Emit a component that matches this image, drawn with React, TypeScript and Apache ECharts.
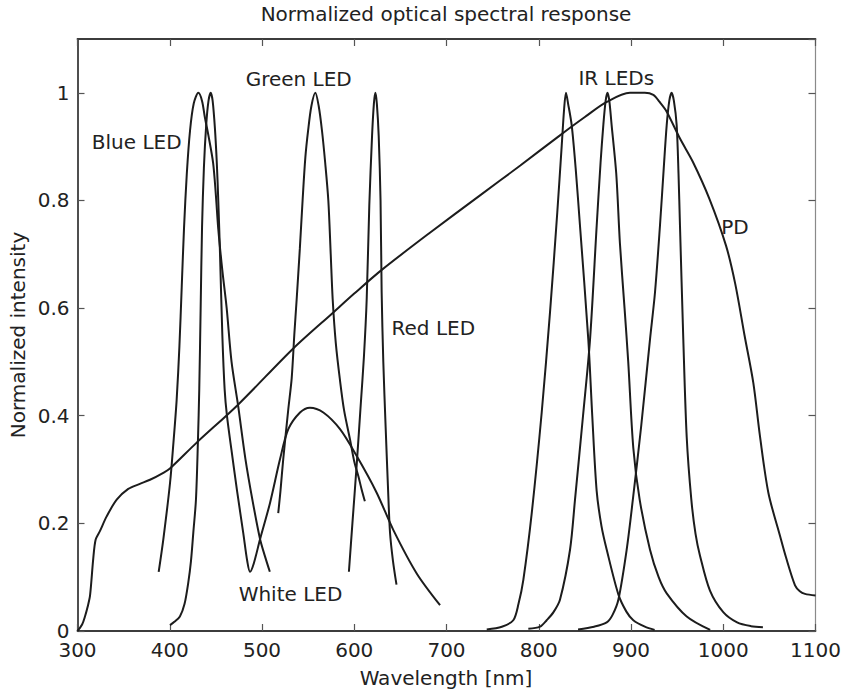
import React, { useEffect, useRef } from 'react';
import * as echarts from 'echarts';

// Axis ranges / ticks
const xMin = 300;
const xMax = 1100;
const xStep = 100;
const yMin = 0;
const yMax = 1.1;
const yStep = 0.2;

// Texts
const titleText = 'Normalized optical spectral response';
const xAxisTitle = 'Wavelength [nm]';
const yAxisTitle = 'Normalized intensity';
const curveLabels = ['Blue LED', 'Green LED', 'Red LED', 'White LED', 'IR LEDs', 'PD'];

// Series values: [wavelength nm, normalized intensity]
const pdCurve: [number, number][] = [
  [300, 0], [305, 0.012], [308.1, 0.027], [311, 0.045], [313.6, 0.066], [317.1, 0.135], [319.7, 0.17],
  [324.4, 0.186], [331.6, 0.213], [342.5, 0.244], [355, 0.264], [367, 0.273], [378.6, 0.281],
  [393, 0.294], [400.2, 0.302], [429.2, 0.35], [474.3, 0.421], [533.9, 0.525], [577.3, 0.592],
  [600, 0.627], [629.8, 0.671], [682, 0.74], [736, 0.809], [780, 0.865], [823, 0.921],
  [850, 0.955], [873.7, 0.983], [898.9, 1.0], [915, 1.0], [924.2, 0.996], [931, 0.983],
  [938.7, 0.965], [953.1, 0.915], [967, 0.872], [985, 0.803], [1003, 0.716], [1013, 0.645],
  [1023, 0.55], [1032.6, 0.461], [1039.8, 0.362], [1048.9, 0.257], [1061.5, 0.177],
  [1068, 0.137], [1077.8, 0.085], [1083, 0.074], [1088.6, 0.069], [1100, 0.066]
];

const blueLed: [number, number][] = [
  [388, 0.11], [393, 0.17], [400.3, 0.275], [404, 0.35], [407.5, 0.43], [410.5, 0.53], [413, 0.64],
  [415.5, 0.75], [418.5, 0.85], [422, 0.93], [426, 0.98], [431, 1.0], [435, 0.985], [438, 0.955],
  [442, 0.92], [447, 0.87], [450, 0.81], [452.6, 0.747], [457, 0.67], [461.7, 0.6], [467, 0.5],
  [474, 0.42], [482, 0.32], [490, 0.24], [498, 0.17], [503, 0.14], [508.5, 0.11]
];

const whiteLed: [number, number][] = [
  [400.3, 0.011], [405, 0.017], [411, 0.027], [416, 0.05], [420, 0.089], [423, 0.13], [425.5, 0.182],
  [428.4, 0.244], [430.5, 0.35], [432, 0.45], [433.5, 0.6], [435, 0.75], [437, 0.86], [439.5, 0.94],
  [442, 0.985], [444.4, 1.0], [446.5, 0.985], [449, 0.933], [451, 0.87], [452.6, 0.8], [454.5, 0.7],
  [457, 0.55], [459.5, 0.449], [462, 0.4], [467, 0.335], [473, 0.26], [479.7, 0.182], [484, 0.13],
  [487, 0.11], [491, 0.125], [497.8, 0.17], [508.7, 0.238], [519.5, 0.319], [528.5, 0.375],
  [541.2, 0.406], [551.9, 0.415], [566.5, 0.406], [584.6, 0.375], [602.7, 0.325], [624.3, 0.257],
  [642.3, 0.188], [667.7, 0.107], [693, 0.048]
];

const greenLed: [number, number][] = [
  [517.6, 0.219], [520, 0.26], [523, 0.319], [528.5, 0.412], [532.2, 0.47], [535, 0.55], [537.6, 0.617],
  [541, 0.71], [544, 0.8], [547, 0.88], [550, 0.93], [553.5, 0.975], [557.8, 1.0], [561.5, 0.975],
  [565, 0.93], [568.5, 0.87], [571.9, 0.8], [574.5, 0.7], [576.6, 0.617], [580, 0.535], [584.6, 0.465],
  [589, 0.41], [595.4, 0.356], [600, 0.315], [604.4, 0.288], [608, 0.263], [611.5, 0.241]
];

const redLed: [number, number][] = [
  [594.2, 0.11], [598, 0.2], [602.7, 0.31], [607, 0.42], [610.5, 0.51], [613.5, 0.617], [616.3, 0.79],
  [619.3, 0.92], [621.3, 0.98], [622.9, 1.0], [624.5, 0.98], [626.5, 0.92], [628.5, 0.8], [629.7, 0.63],
  [631.5, 0.5], [634, 0.38], [636.5, 0.27], [638.8, 0.182], [642, 0.13], [645.8, 0.086]
];

const irLed1: [number, number][] = [
  [743.6, 0.003], [760, 0.008], [772.4, 0.02], [778, 0.05], [783.3, 0.095], [792.4, 0.219],
  [803.2, 0.406], [812.2, 0.592], [820.1, 0.778], [824.9, 0.902], [827.5, 0.97], [829.5, 1.0],
  [831.8, 0.98], [835.7, 0.94], [840, 0.86], [844.7, 0.753], [853.7, 0.542], [858, 0.4], [862.8, 0.26],
  [868, 0.195], [873.7, 0.151], [886.3, 0.068], [895, 0.036], [902.5, 0.02], [915, 0.008], [925.6, 0.002]
];

const irLed2: [number, number][] = [
  [788.7, 0.004], [801.4, 0.008], [808.6, 0.02], [816, 0.035], [823, 0.058], [833.9, 0.151],
  [839.3, 0.244], [848, 0.4], [855.6, 0.542], [862.8, 0.753], [867, 0.87], [870, 0.94], [872.5, 0.985],
  [874.5, 1.0], [876.5, 0.985], [879, 0.94], [884, 0.85], [888, 0.72], [893, 0.6], [897, 0.5],
  [902.5, 0.34], [909.4, 0.244], [920.6, 0.151], [930, 0.1], [938.7, 0.07], [960.4, 0.027], [985.8, 0.002]
];

const irLed3: [number, number][] = [
  [842.6, 0.003], [860, 0.008], [873.7, 0.016], [880, 0.03], [886.3, 0.058], [895.3, 0.151],
  [902, 0.244], [911, 0.38], [920.6, 0.542], [926, 0.629], [931.4, 0.753], [935.5, 0.86], [938.7, 0.94],
  [941.5, 0.985], [944, 1.0], [946.5, 0.985], [949.5, 0.94], [951.5, 0.85], [953.1, 0.753],
  [956.7, 0.542], [960.4, 0.36], [965.4, 0.244], [970, 0.18], [974.8, 0.14], [985.6, 0.075],
  [1000, 0.035], [1015, 0.016], [1030, 0.009], [1043, 0.007]
];

const curves: [number, number][][] = [pdCurve, blueLed, whiteLed, greenLed, redLed, irLed1, irLed2, irLed3];
const curveNames = ['PD', 'Blue LED', 'White LED', 'Green LED', 'Red LED', 'IR LED 1', 'IR LED 2', 'IR LED 3'];

const FONT = '"DejaVu Sans", "Liberation Sans", Arial, sans-serif';
const TEXT_COLOR = '#222';
const LINE_COLOR = '#1c1c1c';
const DARK_AXIS = '#3c3c3c';

export default function App() {
  const ref = useRef<HTMLDivElement>(null);

  useEffect(() => {
    document.body.style.margin = '0';
    if (!ref.current) return;
    const chart = echarts.init(ref.current, undefined, { renderer: 'svg' });

    const labelPos: [number, number][] = [
      [136.7, 142], [298.7, 79], [433.3, 328], [290.5, 594], [616.3, 78], [735, 227]
    ];

    const textStyle = {
      fill: TEXT_COLOR,
      fontSize: 20,
      fontFamily: FONT,
      align: 'center',
      verticalAlign: 'middle'
    };

    const baseX = {
      type: 'value',
      min: xMin,
      max: xMax,
      interval: xStep,
      splitLine: { show: false },
      axisTick: { show: true, inside: true, length: 7, lineStyle: { color: '#555', width: 1.2 } }
    };
    const baseY = {
      type: 'value',
      min: yMin,
      max: yMax,
      interval: yStep,
      splitLine: { show: false },
      axisTick: { show: true, inside: true, length: 7, lineStyle: { color: '#555', width: 1.2 } }
    };

    chart.setOption({
      animation: false,
      backgroundColor: '#fff',
      grid: { left: 77.5, right: 26.5, top: 39, bottom: 63, outerBoundsMode: 'none' },
      xAxis: [
        {
          ...baseX,
          position: 'bottom',
          axisLine: { show: true, onZero: false, lineStyle: { color: DARK_AXIS, width: 1.8 } },
          axisLabel: {
            show: true,
            margin: 9,
            color: TEXT_COLOR,
            fontSize: 20,
            lineHeight: 20,
            fontFamily: FONT,
            formatter: (v: number) => String(v)
          }
        },
        {
          ...baseX,
          position: 'top',
          axisLine: { show: true, onZero: false, lineStyle: { color: DARK_AXIS, width: 1.8 } },
          axisLabel: { show: false }
        }
      ],
      yAxis: [
        {
          ...baseY,
          position: 'left',
          axisLine: { show: true, onZero: false, lineStyle: { color: DARK_AXIS, width: 1.8 } },
          axisLabel: {
            show: true,
            showMaxLabel: false,
            margin: 8,
            color: TEXT_COLOR,
            fontSize: 20,
            lineHeight: 17,
            fontFamily: FONT
          }
        },
        {
          ...baseY,
          position: 'right',
          axisLine: { show: true, onZero: false, lineStyle: { color: '#8a8a8a', width: 1.2 } },
          axisLabel: { show: false }
        }
      ],
      series: curves.map((data, i) => ({
        name: curveNames[i],
        type: 'line',
        xAxisIndex: 0,
        yAxisIndex: 0,
        data,
        showSymbol: false,
        symbol: 'none',
        smooth: 0.3,
        lineStyle: { color: LINE_COLOR, width: 2 },
        emphasis: { disabled: true }
      })),
      graphic: [
        { type: 'text', x: 446, y: 14, style: { ...textStyle, text: titleText } },
        { type: 'text', x: 446, y: 678, style: { ...textStyle, text: xAxisTitle } },
        { type: 'text', x: 17.5, y: 335, rotation: Math.PI / 2, style: { ...textStyle, text: yAxisTitle } },
        ...curveLabels.map((t, i) => ({
          type: 'text',
          x: labelPos[i][0],
          y: labelPos[i][1],
          style: { ...textStyle, text: t }
        }))
      ]
    });

    return () => chart.dispose();
  }, []);

  return <div ref={ref} style={{ width: 842, height: 694 }} />;
}
